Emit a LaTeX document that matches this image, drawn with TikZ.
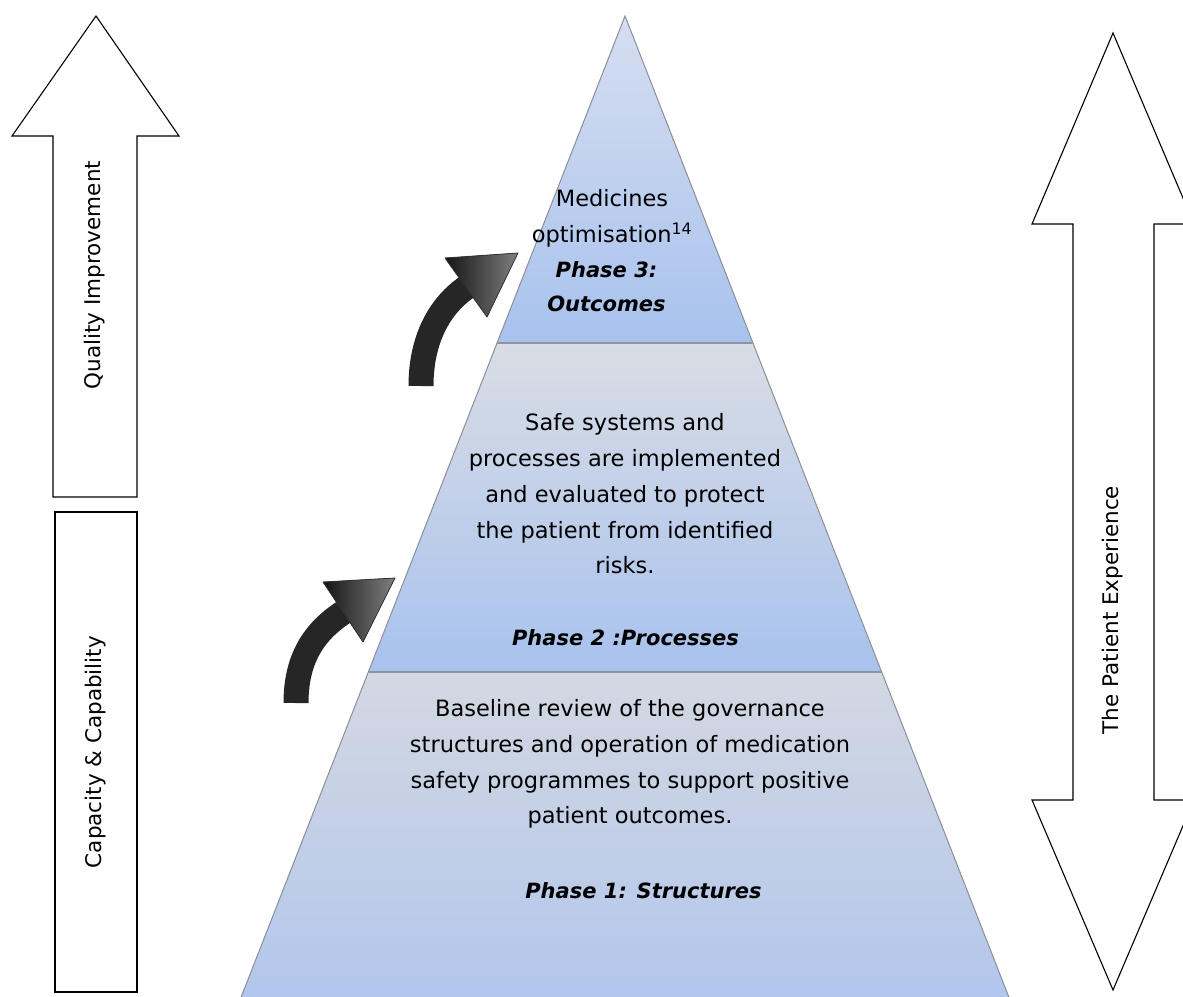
\documentclass[tikz,border=0pt]{standalone}
\usepackage{fontspec}
\setmainfont{DejaVu Sans}
\usetikzlibrary{calc}
\definecolor{pyrtop}{HTML}{D6DEF0}
\definecolor{pyrblue}{HTML}{A8C2EE}
\definecolor{pyrgrey}{HTML}{D9DDE5}
\definecolor{pyrbasetop}{HTML}{D3D8E2}
\definecolor{pyrbase}{HTML}{B2C6EC}
\definecolor{divline}{HTML}{8C94A0}
\definecolor{edgeline}{HTML}{8A8E96}
\tikzset{
  outlinearrow/.style={draw=black, line width=1.1pt, fill=white, line join=miter},
  bodytext/.style={align=center, font=\fontsize{22.5}{35.8}\selectfont, inner sep=0pt},
  phaselabel/.style={align=center, font=\fontsize{21}{34}\selectfont\bfseries\itshape, inner sep=0pt},
  sidetext/.style={font=\fontsize{21.5}{26}\selectfont, rotate=90, inner sep=0pt},
  bentstem/.style={draw=black!85, line width=25pt},
  benthead/.style={left color=black!92, right color=black!50, draw=black!80, line width=0.8pt, line join=round},
}
\begin{document}
\begin{tikzpicture}[x=1pt,y=-1pt]
\useasboundingbox (0,0) rectangle (1183,996);
\clip (0,0) rectangle (1183,996);
\fill[white] (0,0) rectangle (1183,996);

% ---- pyramid: apex (625,16), edges widen by 0.3908 per unit of height
\coordinate (apex) at (625,16);
\coordinate (l3) at (497.2,343);  \coordinate (r3) at (752.8,343);
\coordinate (l2) at (368.6,672);  \coordinate (r2) at (881.4,672);
\coordinate (l1) at (240,1000);   \coordinate (r1) at (1010,1000);

\shade[top color=pyrtop, bottom color=pyrblue] (apex) -- (r3) -- (l3) -- cycle;
\shade[top color=pyrgrey, bottom color=pyrblue] (l3) -- (r3) -- (r2) -- (l2) -- cycle;
\shade[top color=pyrbasetop, bottom color=pyrbase] (l2) -- (r2) -- (r1) -- (l1) -- cycle;

\draw[edgeline, line width=1pt] (l1) -- (apex) -- (r1);
\draw[divline, line width=2.5pt] (l3) -- (r3);
\draw[divline, line width=2.5pt] (l2) -- (r2);

% ---- texts inside the pyramid
\node[bodytext] (top) at (612,218)
  {Medicines\\optimisation\textsuperscript{14}};
\node[phaselabel] (toplabel) at (606.5,286.5) {Phase 3:\\Outcomes};

\node[bodytext] (mid) at (625,494)
  {Safe systems and\\processes are implemented\\and evaluated to protect\\the patient from identified\\risks.};
\node[phaselabel] (midlabel) at (625.5,638) {Phase 2 :Processes};

\node[bodytext] (base) at (630,764)
  {Baseline review of the governance\\structures and operation of medication\\safety programmes to support positive\\patient outcomes.};
\node[phaselabel] (baselabel) at (643.5,891) {Phase 1: Structures};

% ---- bent arrows between the phases
\draw[bentstem] (421,386) .. controls (421,335) and (443,302) .. (470,285);
\fill[benthead] (445,258) -- (518,253) -- (487,317) -- cycle;
\draw[bentstem] (296,703) .. controls (296,652) and (320,627) .. (347,610);
\fill[benthead] (323,582) -- (395,578) -- (363,642) -- cycle;

% ---- left: quality improvement arrow and capacity box
\draw[outlinearrow] (96,16) -- (179,136) -- (137,136) -- (137,497) -- (53,497)
  -- (53,136) -- (12,136) -- cycle;
\node[sidetext] (quality) at (95,275) {Quality Improvement};
\draw[outlinearrow] (55,512) rectangle (137,992);
\node[sidetext] (capacity) at (96,752) {Capacity \& Capability};

% ---- right: double-headed patient experience arrow
\draw[outlinearrow] (1113,33) -- (1194,224) -- (1154,224) -- (1154,800) -- (1194,800)
  -- (1113,990) -- (1032,800) -- (1073,800) -- (1073,224) -- (1032,224) -- cycle;
\node[sidetext] (patient) at (1113,610) {The Patient Experience};
\end{tikzpicture}
\end{document}
